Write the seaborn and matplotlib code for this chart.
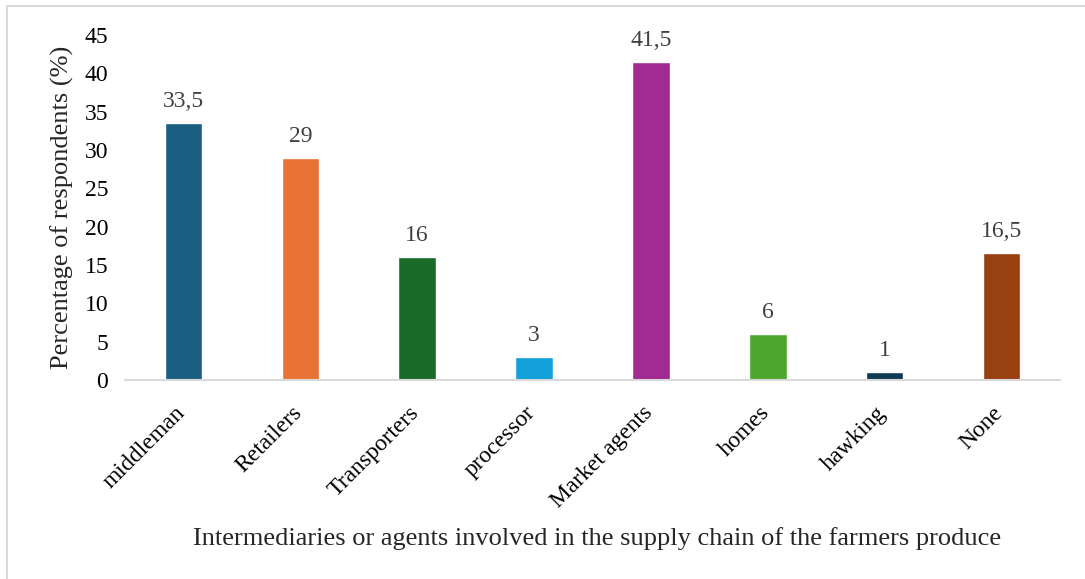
import pandas as pd
import seaborn as sns
import matplotlib.pyplot as plt
import matplotlib.transforms as mtransforms
from matplotlib.lines import Line2D

categories = ['middleman', 'Retailers', 'Transporters', 'processor',
              'Market agents', 'homes', 'hawking', 'None']
values = [33.5, 29, 16, 3, 41.5, 6, 1, 16.5]
value_labels = ['33,5', '29', '16', '3', '41,5', '6', '1', '16,5']
colors = ['#1a5f82', '#ea7234', '#1a6b27', '#13a0d8',
          '#a02b93', '#4ea72e', '#0e3a52', '#984010']
y_ticks = [0, 5, 10, 15, 20, 25, 30, 35, 40, 45]

sns.set_style('white')
plt.rcParams['font.family'] = ['Liberation Serif', 'DejaVu Serif']

df = pd.DataFrame({'agent': categories, 'pct': values})

fig = plt.figure(figsize=(10.85, 5.79), dpi=100)
ax = fig.add_axes([0.1152, 0.3437, 0.8618, 0.5959])
sns.barplot(data=df, x='agent', y='pct', hue='agent', palette=colors,
            width=0.32, legend=False, saturation=1, ax=ax)
for cont, lab in zip(ax.containers, value_labels):
    ax.bar_label(cont, labels=[lab], padding=8, fontsize=17, color='#404040')

ax.set_ylim(0, 45)
ax.set_xlim(-0.5, len(categories) - 0.5)
ax.set_yticks(y_ticks)
ax.tick_params(axis='both', length=0, labelsize=17, colors='black')
ax.tick_params(axis='y', pad=12)
ax.tick_params(axis='x', pad=16)
# shift rotated category labels a little to the left, like the original
shift = mtransforms.ScaledTranslation(-9 / 100, 0, fig.dpi_scale_trans)
for t in ax.get_xticklabels():
    t.set_rotation(45)
    t.set_ha('right')
    t.set_rotation_mode('anchor')
    t.set_transform(t.get_transform() + shift)
for s in ['top', 'right', 'left']:
    ax.spines[s].set_visible(False)
ax.spines['bottom'].set_color('#d9d9d9')
ax.spines['bottom'].set_linewidth(1.5)

ax.set_ylabel('Percentage of respondents (%)', fontsize=19)
ax.yaxis.set_label_coords(-0.054, 0.5)
ax.set_xlabel('Intermediaries or agents involved in the supply chain of the farmers produce',
              fontsize=19)
ax.xaxis.set_label_coords(0.505, -0.425)

# light frame on the left and top edges
fig.lines.append(Line2D([0.0069, 0.0069], [0, 0.99], transform=fig.transFigure,
                        color='#d9d9d9', linewidth=1.5))
fig.lines.append(Line2D([0.0069, 1], [0.99, 0.99], transform=fig.transFigure,
                        color='#d9d9d9', linewidth=1.5))

fig.savefig('out.png', dpi=100)
